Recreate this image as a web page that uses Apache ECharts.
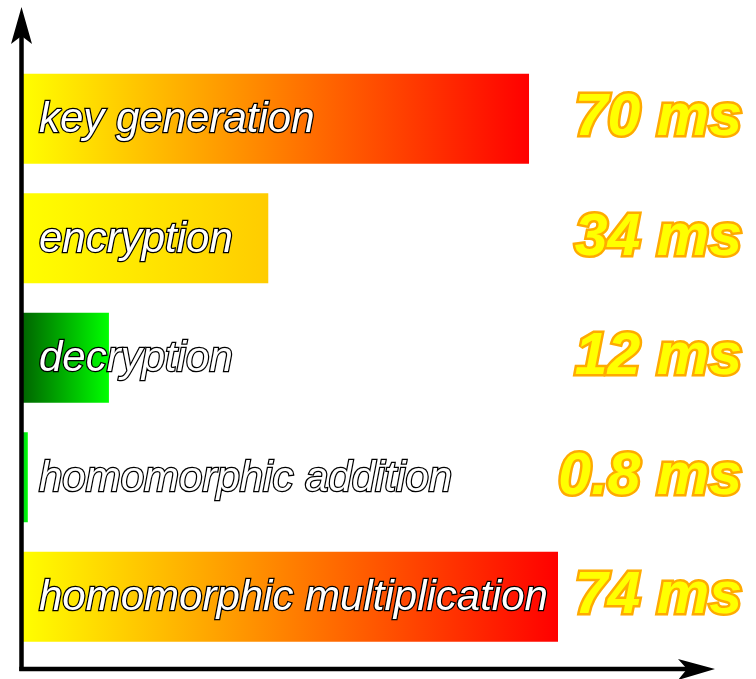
<!DOCTYPE html>
<html>
<head>
<meta charset="utf-8">
<style>
  html, body { margin: 0; padding: 0; background: #ffffff; }
  #chart { width: 756px; height: 679px; }
</style>
<script src="https://cdn.jsdelivr.net/npm/echarts@6/dist/echarts.min.js"></script>
</head>
<body>
<div id="chart"></div>
<script>
// Operation names, top to bottom
var operations = ['key generation', 'encryption', 'decryption', 'homomorphic addition', 'homomorphic multiplication'];
// Measured time per operation, in milliseconds
var timesMs = [70, 34, 12, 0.8, 74];
// Gradient ends (left, right) for each bar
var barColorsStart = ['#ffff00', '#ffff00', '#006400', '#00cc22', '#ffff00'];
var barColorsEnd = ['#ff0000', '#ffcc00', '#00ff00', '#00ff00', '#ff0000'];

var chart = echarts.init(document.getElementById('chart'), null, { renderer: 'canvas' });

var GRID_LEFT = 22, GRID_TOP = 59, GRID_W = 536, GRID_H = 597.5;

var barData = timesMs.map(function (v, i) {
  return {
    value: v,
    itemStyle: {
      color: new echarts.graphic.LinearGradient(0, 0, 1, 0, [
        { offset: 0, color: barColorsStart[i] },
        { offset: 1, color: barColorsEnd[i] }
      ])
    }
  };
});

var option = {
  animation: false,
  backgroundColor: '#ffffff',
  grid: { left: GRID_LEFT, top: GRID_TOP, width: GRID_W, height: GRID_H },
  xAxis: {
    type: 'value',
    min: 0,
    max: 74,
    show: false
  },
  yAxis: [{
    type: 'category',
    data: operations,
    inverse: true,
    show: false
  }, {
    type: 'category',
    data: timesMs.map(function (v) { return v + ' ms'; }),
    inverse: true,
    position: 'right',
    axisLine: { show: false },
    axisTick: { show: false },
    splitLine: { show: false },
    axisLabel: {
      align: 'right',
      margin: 184,
      padding: [6, 0, 0, 0],
      fontFamily: 'Liberation Sans',
      fontStyle: 'italic',
      fontWeight: 'bold',
      fontSize: 59,
      color: '#ffff00',
      textBorderColor: '#ffaa00',
      textBorderWidth: 5
    }
  }],
  series: [{
    type: 'bar',
    yAxisIndex: 0,
    data: barData,
    barWidth: 90,
    label: {
      show: true,
      position: 'insideLeft',
      distance: 17,
      offset: [0, 2],
      formatter: '{b}',
      fontFamily: 'Liberation Sans',
      fontStyle: 'italic',
      fontSize: 42,
      color: '#ffffff',
      textBorderColor: '#000000',
      textBorderWidth: 2.5
    }
  }],
  graphic: [
    // vertical axis with arrowhead
    { type: 'line', shape: { x1: 21.5, y1: 671, x2: 21.5, y2: 30 }, style: { stroke: '#000', lineWidth: 4.5 }, z: 10 },
    { type: 'polygon', shape: { points: [[21.5, 7], [32, 44], [21.5, 36], [11, 44]] }, style: { fill: '#000' }, z: 10 },
    // horizontal axis with arrowhead
    { type: 'line', shape: { x1: 19.3, y1: 669, x2: 695, y2: 669 }, style: { stroke: '#000', lineWidth: 4.5 }, z: 10 },
    { type: 'polygon', shape: { points: [[715, 669], [678, 659], [687, 669], [678, 680]] }, style: { fill: '#000' }, z: 10 }
  ]
};

chart.setOption(option);
</script>
</body>
</html>
